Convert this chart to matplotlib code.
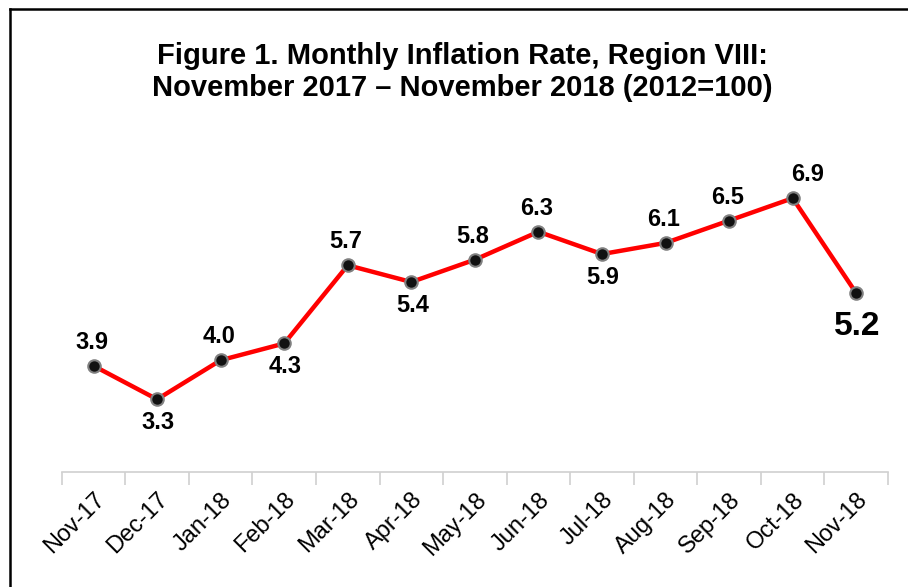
import matplotlib
matplotlib.use("Agg")
import matplotlib.pyplot as plt
from matplotlib.lines import Line2D

plt.rcParams['font.family'] = ['Liberation Sans', 'DejaVu Sans']

months = ["Nov-17", "Dec-17", "Jan-18", "Feb-18", "Mar-18", "Apr-18", "May-18",
          "Jun-18", "Jul-18", "Aug-18", "Sep-18", "Oct-18", "Nov-18"]
rates = [3.9, 3.3, 4.0, 4.3, 5.7, 5.4, 5.8, 6.3, 5.9, 6.1, 6.5, 6.9, 5.2]
label_pos = ["above", "below", "above", "below", "above", "below", "above",
             "above", "below", "above", "above", "above", "below"]
title = "Figure 1. Monthly Inflation Rate, Region VIII:\nNovember 2017 \u2013 November 2018 (2012=100)"

fig = plt.figure(figsize=(9.08, 5.87), dpi=100)
ax = fig.add_axes([0.068, 0.196, 0.910, 0.571])

x = list(range(len(months)))
ax.plot(x, rates, color="#ff0000", lw=3.2, zorder=2)
ax.plot(x, rates, ls="none", marker="o", ms=9, mfc="#111111", mec="#808080", mew=1.5, zorder=3)

for i, (xi, v, p) in enumerate(zip(x, rates, label_pos)):
    last = i == len(rates) - 1
    if p == "above":
        dx = 15 if i == 11 else -2
        off = (dx, 12)
        va = "bottom"
    else:
        off = (1, -18 if last else -12)
        va = "top"
    ax.annotate(f"{v:.1f}", (xi, v), xytext=off, textcoords="offset pixels",
                ha="center", va=va, fontsize=24 if last else 17, fontweight="bold",
                color="black")

ax.set_xlim(-0.5, len(months) - 0.5)
ax.set_ylim(2, 8)
ax.set_xticks([i - 0.5 for i in range(len(months) + 1)])
ax.set_xticklabels([])
ax.set_xticks(x, minor=True)
ax.set_xticklabels(months, minor=True, rotation=45, ha="right", rotation_mode="anchor",
                   fontsize=17)
ax.tick_params(axis="x", which="major", length=9, color="#d0d0d0", width=1.2)
ax.tick_params(axis="x", which="minor", length=0, pad=12)
ax.set_yticks([])
for s in ["top", "right", "left"]:
    ax.spines[s].set_visible(False)
ax.spines["bottom"].set_color("#d0d0d0")
ax.spines["bottom"].set_linewidth(1.2)

fig.text(0.509, 0.877, title, ha="center", va="center", fontsize=21,
         fontweight="bold", linespacing=1.2)

fig.add_artist(Line2D([0.0105, 0.0105], [0, 0.984], transform=fig.transFigure,
                      color="black", lw=1.8))
fig.add_artist(Line2D([0.0105, 1.0], [0.984, 0.984], transform=fig.transFigure,
                      color="black", lw=1.8))

fig.savefig("out.png", dpi=100)
